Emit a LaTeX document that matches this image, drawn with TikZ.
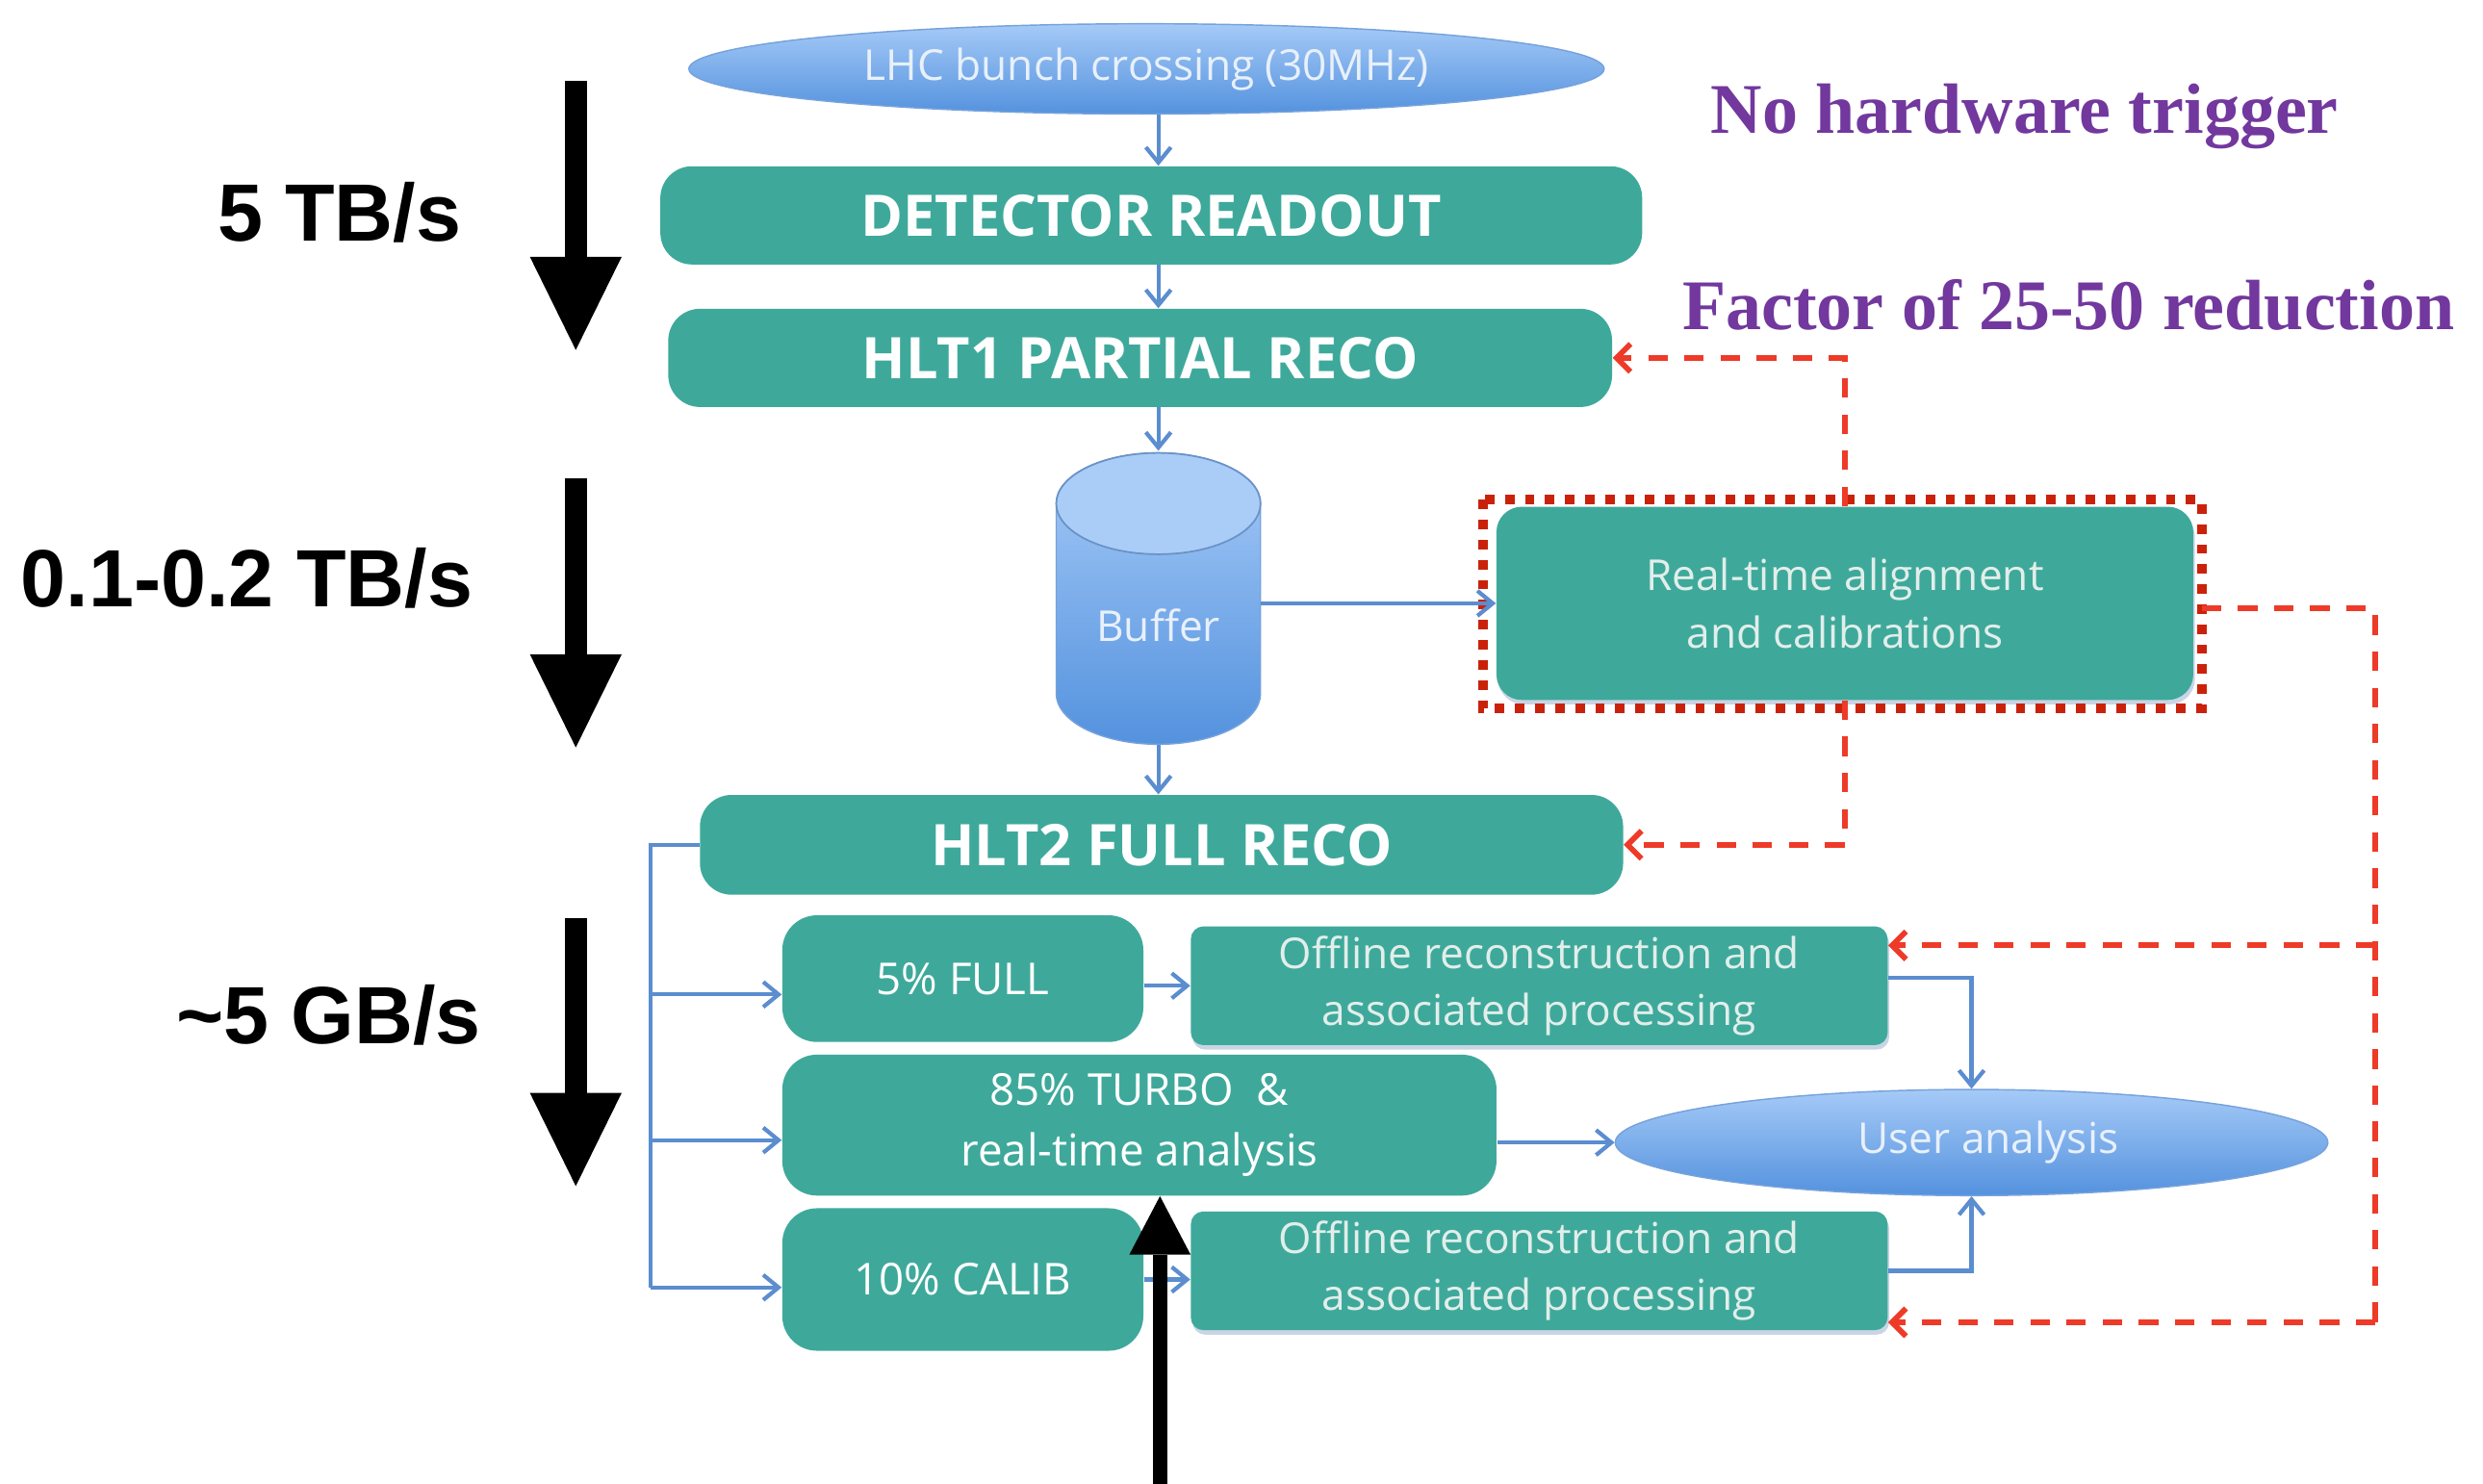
\documentclass[tikz,border=0pt]{standalone}
\usepackage{fontspec}
\setmainfont{Open Sans}
\newfontfamily\helvf{Liberation Sans}
\newfontfamily\timesf{Liberation Serif}
\usetikzlibrary{shapes.geometric,arrows.meta,calc,shadows}
\definecolor{teal1}{RGB}{62,169,155}
\definecolor{ellTop}{RGB}{165,202,247}
\definecolor{ellBot}{RGB}{84,146,222}
\definecolor{ellEdge}{RGB}{118,162,220}
\definecolor{conn}{RGB}{91,141,207}
\definecolor{redd}{RGB}{238,58,40}
\definecolor{dotred}{RGB}{202,34,10}
\definecolor{purp}{RGB}{114,56,158}
\definecolor{lighttext}{RGB}{226,238,234}
\definecolor{elltext}{RGB}{232,240,250}
\newcommand\pxu{0.02cm}
\begin{document}
\begin{tikzpicture}[x=0.02cm,y=-0.02cm,
  smallfont/.style={font=\fontsize{15.3}{20.5}\selectfont},
  tealbox/.style={rectangle, fill=teal1, inner sep=0pt, text=white, align=center, smallfont},
  bigbox/.style={tealbox, rounded corners=0.4cm, font=\bfseries\fontsize{20.6}{25}\selectfont},
  midbox/.style={tealbox, rounded corners=0.44cm, font=\fontsize{15.8}{21.6}\selectfont},
  softshadow/.style={drop shadow={shadow xshift=0.6pt, shadow yshift=-1.6pt, opacity=0.35, fill=conn!70!gray}},
  offbox/.style={tealbox, rounded corners=0.16cm, text=lighttext, minimum width=440*\pxu, minimum height=75*\pxu, softshadow},
  ellnode/.style={ellipse, inner sep=0pt, top color=ellTop, bottom color=ellBot, draw=ellEdge, line width=0.5pt, text=elltext, smallfont},
  bline/.style={draw=conn, line width=1.45pt},
  barr/.style={bline, -{Straight Barb[length=5.5pt,width=9pt]}},
  rdash/.style={draw=redd, line width=2pt, dash pattern=on 7pt off 6pt, -{Straight Barb[length=5pt,width=10pt]}},
  rline/.style={draw=redd, line width=2pt, dash pattern=on 7pt off 6pt},
  dotborder/.style={draw=dotred, line width=3.4pt, dash pattern=on 3.4pt off 3.8pt},
  bigarr/.style={draw=black, line width=8pt, -{Triangle[length=33.5pt,width=33pt,line width=0pt]}},
  ratelbl/.style={font=\helvf\bfseries\fontsize{29.2}{32}\selectfont, inner sep=0pt},
  purplbl/.style={font=\timesf\bfseries\fontsize{25.6}{28}\selectfont, text=purp, inner sep=0pt}
]
\fill[white] (0,0) rectangle (1568,937);
\useasboundingbox (0,0) rectangle (1568,937);

% ---- nodes ----
\node[ellnode, minimum width=578*\pxu, minimum height=57*\pxu] (lhc) at (724,43.5) {LHC bunch crossing (30MHz)};
\node[bigbox, minimum width=620*\pxu, minimum height=62*\pxu] (det) at (727,136) {DETECTOR READOUT};
\node[bigbox, minimum width=596*\pxu, minimum height=62*\pxu] (hlt1) at (720,226) {HLT1 PARTIAL RECO};

% buffer cylinder
\node[minimum width=129*\pxu, minimum height=185*\pxu, inner sep=0pt] (buf) at (731.5,377.5) {};
\shade[top color=ellTop, bottom color=ellBot, draw=ellEdge, line width=0.5pt]
  (667,318) -- (667,438) arc[start angle=180,end angle=0,x radius=64.5,y radius=32]
  -- (796,318) arc[start angle=0,end angle=-180,x radius=64.5,y radius=32] -- cycle;
\filldraw[fill=ellTop!95!white, draw=ellEdge!90!black, line width=0.6pt] (731.5,318) ellipse[x radius=64.5, y radius=32];
\node[text=elltext, smallfont] (buft) at (731.5,395) {Buffer};

\node[tealbox, rounded corners=0.32cm, minimum width=440*\pxu, minimum height=122*\pxu, text=lighttext, softshadow] (rt) at (1165,381) {Real-time alignment\\and calibrations};
\draw[dotborder] ($(rt.north west)+(-8,-4)$) rectangle ($(rt.south east)+(5,5)$);

\node[bigbox, minimum width=583*\pxu, minimum height=63*\pxu] (hlt2) at (733.5,533.5) {HLT2 FULL RECO};
\node[midbox, minimum width=228*\pxu, minimum height=80*\pxu] (full) at (608,618) {5\% FULL};
\node[offbox] (off1) at (972,622.5) {Offline reconstruction and\\associated processing};
\node[midbox, minimum width=451*\pxu, minimum height=89*\pxu] (turbo) at (719.5,710.5) {85\% TURBO\ \ \&\\real-time analysis};
\node[ellnode, minimum width=450*\pxu, minimum height=67*\pxu] (user) at (1245,721.5) {\hspace*{12pt}User analysis};
\node[midbox, minimum width=228*\pxu, minimum height=90*\pxu] (calib) at (608,808) {10\% CALIB};
\node[offbox] (off2) at (972,802.5) {Offline reconstruction and\\associated processing};

% ---- labels ----
\node[ratelbl, anchor=base west] (r1) at (137,152.5) {5 TB/s};
\node[ratelbl, anchor=base west] (r2) at (13,383) {0.1-0.2 TB/s};
\node[ratelbl, anchor=base west] (r3) at (111,659) {\textasciitilde 5 GB/s};
\node[purplbl, anchor=base west] (p1) at (1080,84) {No hardware trigger};
\node[purplbl, anchor=base west] (p2) at (1062,208) {Factor of 25-50 reduction};

% ---- blue connectors ----
\draw[barr] (lhc.south -| buf.center) -- (det.north -| buf.center);
\draw[barr] (det.south -| buf.center) -- (hlt1.north -| buf.center);
\draw[barr] (hlt1.south -| buf.center) -- (buf.north);
\draw[barr] (buf.south) -- (hlt2.north -| buf.center);
\draw[barr] (buf.east |- rt.west) -- (rt.west);

\coordinate (bx) at (411,533.5);
\coordinate (ain1) at ($(full.west)+(0,10)$);
\coordinate (ain2) at ($(turbo.west)+(0,9.5)$);
\coordinate (ain3) at ($(calib.west)+(0,5)$);
\draw[bline] (hlt2.west) -- (bx) -- (bx |- ain3);
\draw[barr] (bx |- ain1) -- (ain1);
\draw[barr] (bx |- ain2) -- (ain2);
\draw[barr] (bx |- ain3) -- (ain3);

\draw[barr] (full.east |- off1.west) -- (off1.west);
\draw[barr] (calib.east) -- (calib.east -| off2.west);
\draw[barr] (turbo.east |- user.west) -- (user.west);
\draw[barr] ($(off1.east)+(0,-5)$) -| (user.north);
\draw[barr] (off2.east) -| (user.south);

% ---- red dashed feedback ----
\draw[rdash] (rt.north) |- (hlt1.east);
\draw[rdash] (rt.south) |- (hlt2.east);
\coordinate (rx) at (1500,384);
\coordinate (rin1) at ($(off1.east)+(0,-25.5)$);
\coordinate (rin2) at ($(off2.east)+(0,32.5)$);
\draw[rline] ($(rt.east)+(5,3)$) -- (rx) -- (rx |- rin2);
\draw[rdash] (rx |- rin1) -- (rin1);
\draw[rdash] (rx |- rin2) -- (rin2);

% ---- black rate arrows ----
\coordinate (a1s) at (363.6,51);  \coordinate (a1e) at (363.6,221);
\coordinate (a2s) at (363.6,302); \coordinate (a2e) at (363.6,472);
\coordinate (a3s) at (363.6,580); \coordinate (a3e) at (363.6,749);
\draw[bigarr] (a1s) -- (a1e);
\draw[bigarr] (a2s) -- (a2e);
\draw[bigarr] (a3s) -- (a3e);

\coordinate (bot) at (732.5,937);
\draw[draw=black, line width=5.1pt, -{Triangle[length=21pt,width=22pt,line width=0pt]}] (bot) -- (bot |- turbo.south);
\end{tikzpicture}
\end{document}
